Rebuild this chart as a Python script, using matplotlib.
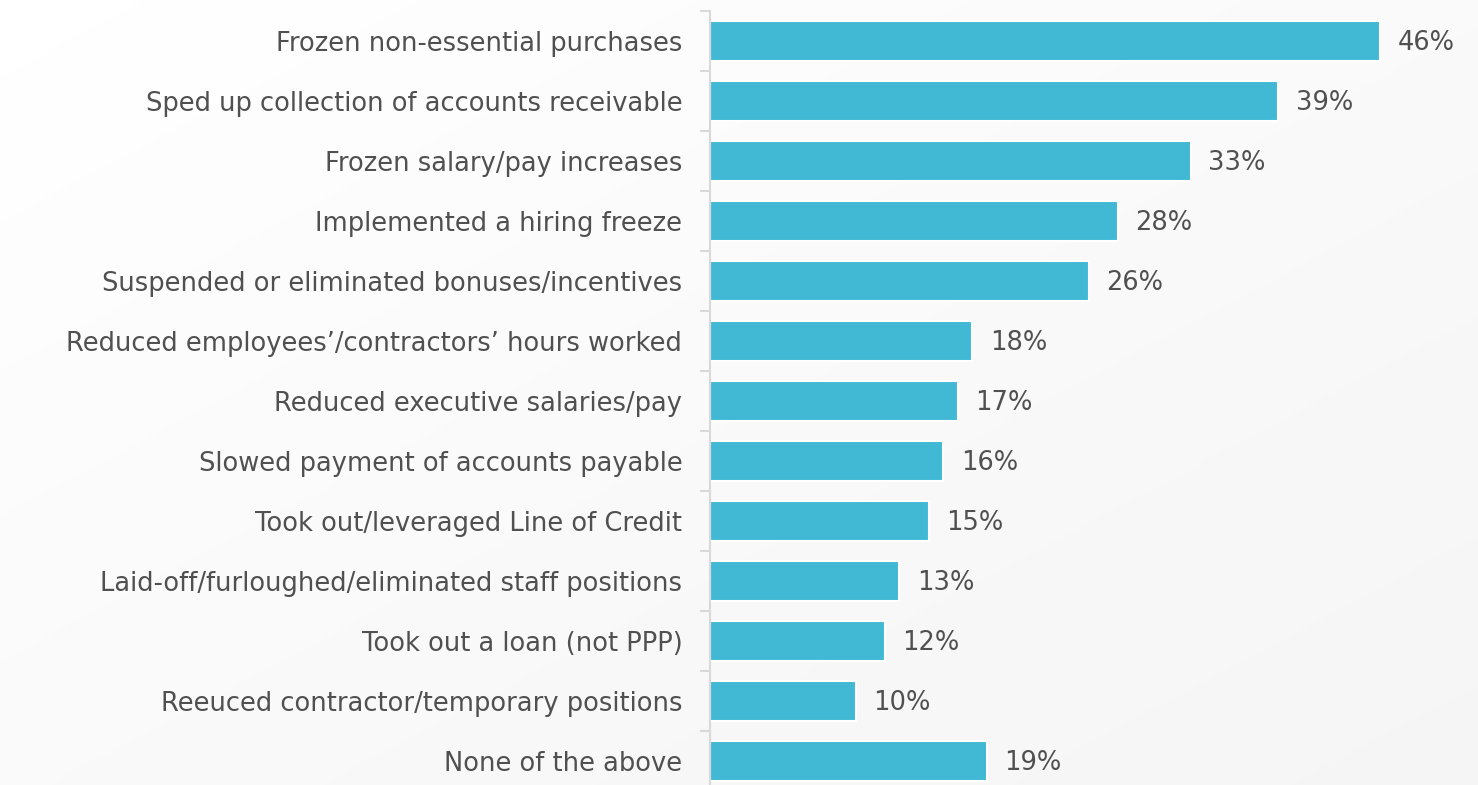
import matplotlib.pyplot as plt
import numpy as np

# survey answers, top to bottom
categories = [
    'Frozen non-essential purchases',
    'Sped up collection of accounts receivable',
    'Frozen salary/pay increases',
    'Implemented a hiring freeze',
    'Suspended or eliminated bonuses/incentives',
    'Reduced employees\u2019/contractors\u2019 hours worked',
    'Reduced executive salaries/pay',
    'Slowed payment of accounts payable',
    'Took out/leveraged Line of Credit',
    'Laid-off/furloughed/eliminated staff positions',
    'Took out a loan (not PPP)',
    'Reeuced contractor/temporary positions',
    'None of the above',
]
values = [46, 39, 33, 28, 26, 18, 17, 16, 15, 13, 12, 10, 19]

text_color = '#505050'
bar_color = '#41B9D4'
line_color = '#d9d9d9'

plt.rcParams['font.family'] = ['DejaVu Sans']

fig = plt.figure(figsize=(14.78, 7.85), dpi=100)

# very light gray background gradient
bg = fig.add_axes([0, 0, 1, 1], zorder=-1)
gx, gy = np.meshgrid(np.linspace(0, 1, 200), np.linspace(0, 1, 200))
grad = 0.5 * gx + 0.5 * (1 - gy)
bg.imshow(grad, cmap='Greys', vmin=0, vmax=12, aspect='auto',
          extent=[0, 1, 0, 1], origin='lower')
bg.axis('off')

ax = fig.add_axes([0.4804, -0.0076, 0.5196, 0.9936])
ax.patch.set_alpha(0)

y = np.arange(len(categories))
ax.barh(y, values, height=0.66, color=bar_color, edgecolor='white', linewidth=1.5)
ax.set_ylim(len(categories) - 0.5, -0.5)
ax.set_xlim(0, 52.7)

for yi, v in zip(y, values):
    ax.text(v + 1.2, yi + 0.03, f'{v}%', va='center', ha='left', fontsize=18.5, color=text_color)

ax.set_yticks(y)
ax.set_yticklabels(categories, fontsize=18.5, color=text_color)
ax.tick_params(axis='y', which='major', length=0, pad=20)
ax.set_yticks(np.arange(-0.5, len(categories)), minor=True)
ax.tick_params(axis='y', which='minor', length=7, color=line_color, width=1.5)
ax.set_xticks([])

for s in ['top', 'right', 'bottom']:
    ax.spines[s].set_visible(False)
ax.spines['left'].set_color(line_color)
ax.spines['left'].set_linewidth(1.5)

fig.savefig('out.png', dpi=100)
